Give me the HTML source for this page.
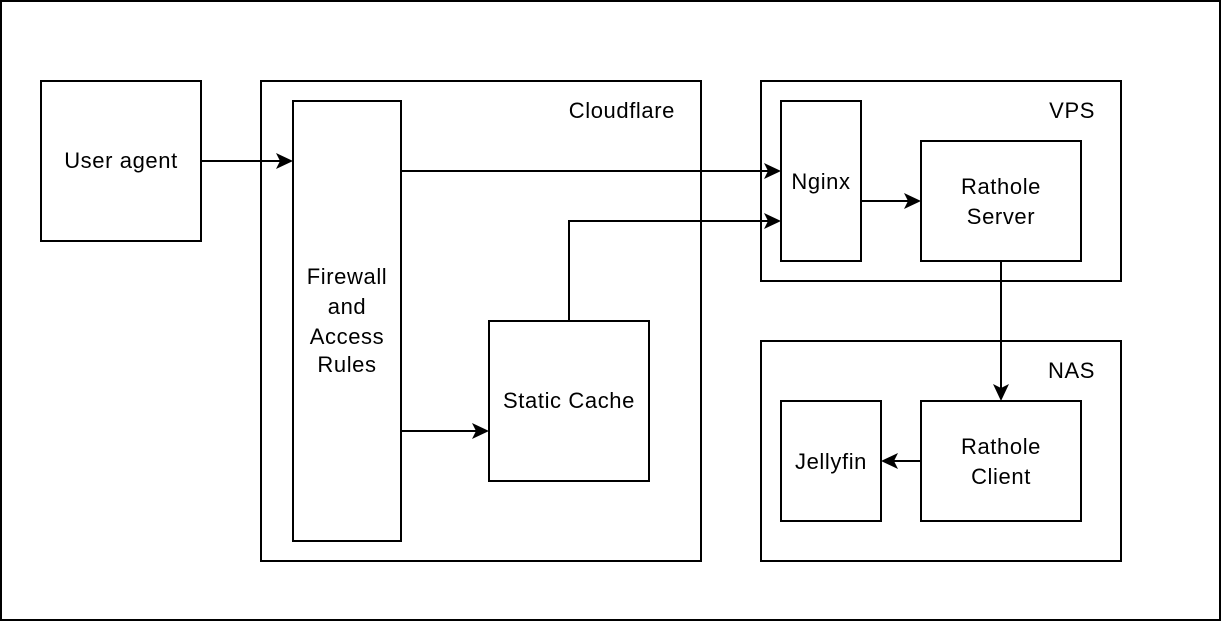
<!DOCTYPE html>
<html><head><meta charset="utf-8"><style>
html,body{margin:0;padding:0;background:#fff;}
svg{display:block;}
text{font-family:"Liberation Sans",Arial,sans-serif;font-size:22px;letter-spacing:0.6px;fill:#000;}
</style></head><body>
<svg width="1222" height="624" viewBox="0 0 1222 624" xmlns="http://www.w3.org/2000/svg">
<rect x="1" y="1" width="1219" height="619" fill="#fff" stroke="#000" stroke-width="2"/>
<g fill="#fff" stroke="#000" stroke-width="2">
<rect x="41" y="81" width="160" height="160"/>
<rect x="261" y="81" width="440" height="480"/>
<rect x="293" y="101" width="108" height="440"/>
<rect x="489" y="321" width="160" height="160"/>
<rect x="761" y="81" width="360" height="200"/>
<rect x="781" y="101" width="80" height="160"/>
<rect x="921" y="141" width="160" height="120"/>
<rect x="761" y="341" width="360" height="220"/>
<rect x="781" y="401" width="100" height="120"/>
<rect x="921" y="401" width="160" height="120"/>
</g>
<g fill="none" stroke="#000" stroke-width="2">
<path d="M201 161H280"/>
<path d="M401 171H768"/>
<path d="M569 321V221H768"/>
<path d="M401 431H476"/>
<path d="M861 201H908"/>
<path d="M1001 261V388"/>
<path d="M921 461H894"/>
</g>
<g fill="#000">
<path d="M293 161l-17 -8 4 8 -4 8z"/>
<path d="M781 171l-17 -8 4 8 -4 8z"/>
<path d="M781 221l-17 -8 4 8 -4 8z"/>
<path d="M489 431l-17 -8 4 8 -4 8z"/>
<path d="M921 201l-17 -8 4 8 -4 8z"/>
<path d="M1001 401l-8 -17 8 4 8 -4z"/>
<path d="M881 461l17 -8 -4 8 4 8z"/>
</g>
<text x="121" y="168" text-anchor="middle">User agent</text>
<text x="675" y="118" text-anchor="end">Cloudflare</text>
<text x="347" y="284" text-anchor="middle">Firewall</text>
<text x="347" y="314" text-anchor="middle">and</text>
<text x="347" y="344" text-anchor="middle">Access</text>
<text x="347" y="372" text-anchor="middle">Rules</text>
<text x="569" y="408" text-anchor="middle">Static Cache</text>
<text x="1095" y="118" text-anchor="end">VPS</text>
<text x="821" y="189" text-anchor="middle">Nginx</text>
<text x="1001" y="194" text-anchor="middle">Rathole</text>
<text x="1001" y="224" text-anchor="middle">Server</text>
<text x="1095" y="378" text-anchor="end">NAS</text>
<text x="831" y="469" text-anchor="middle">Jellyfin</text>
<text x="1001" y="454" text-anchor="middle">Rathole</text>
<text x="1001" y="484" text-anchor="middle">Client</text>
</svg>
</body></html>
